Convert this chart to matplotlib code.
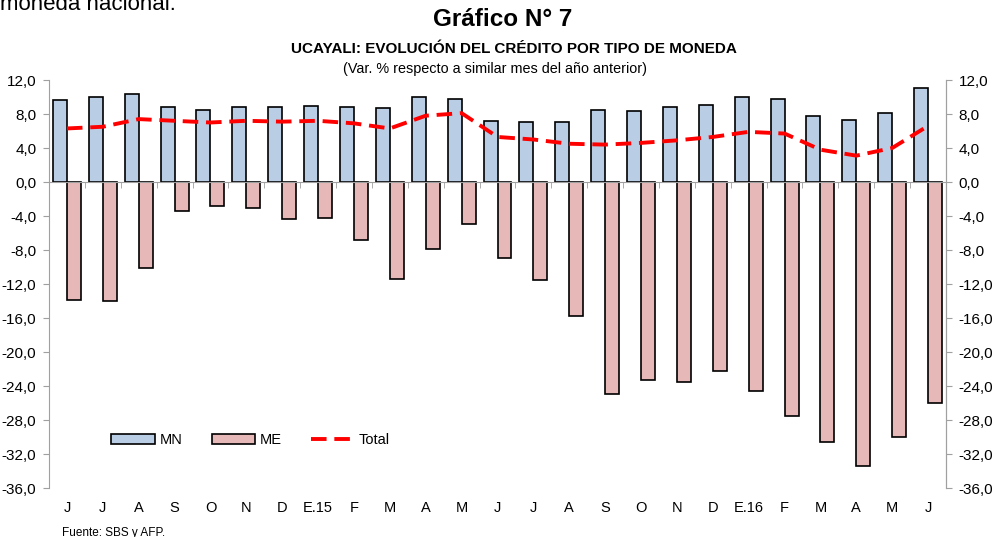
import matplotlib
matplotlib.use("Agg")
import matplotlib.pyplot as plt
import matplotlib.transforms as mtrans
from matplotlib.ticker import FuncFormatter

plt.rcParams['font.family'] = ['Liberation Sans', 'DejaVu Sans']

meses = ['J', 'J', 'A', 'S', 'O', 'N', 'D', 'E.15', 'F', 'M', 'A', 'M',
         'J', 'J', 'A', 'S', 'O', 'N', 'D', 'E.16', 'F', 'M', 'A', 'M', 'J']
mn = [9.7, 10.0, 10.4, 8.8, 8.5, 8.8, 8.8, 9.0, 8.8, 8.7, 10.0, 9.8,
      7.2, 7.1, 7.1, 8.5, 8.4, 8.8, 9.1, 10.0, 9.8, 7.8, 7.3, 8.1, 11.1]
me = [-13.9, -14.0, -10.1, -3.4, -2.8, -3.0, -4.3, -4.2, -6.8, -11.4, -7.9, -4.9,
      -8.9, -11.5, -15.8, -24.9, -23.3, -23.5, -22.2, -24.6, -27.5, -30.6, -33.4, -30.0, -26.0]
total = [6.3, 6.5, 7.4, 7.2, 7.0, 7.2, 7.1, 7.2, 6.9, 6.3, 7.8, 8.1,
         5.3, 5.0, 4.5, 4.4, 4.6, 4.9, 5.3, 5.9, 5.7, 3.8, 3.1, 4.0, 6.6]

x = list(range(len(meses)))
w = 0.39

fig = plt.figure(figsize=(9.92, 5.37), dpi=100)
ax = fig.add_axes([49/992, 1-488/537, 897/992, 408/537])

b1 = ax.bar([i - w/2 for i in x], mn, width=w, color='#B9CDE5', edgecolor='black', linewidth=1.2, label='MN', zorder=2)
b2 = ax.bar([i + w/2 for i in x], me, width=w, color='#E6B9B8', edgecolor='black', linewidth=1.2, label='ME', zorder=2)
l1, = ax.plot(x, total, color='red', linestyle=(0, (4, 2)), linewidth=2.8, label='Total', zorder=3)

ax.set_xlim(-0.5, len(meses) - 0.5)
ax.set_ylim(-36, 12)
yt = list(range(-36, 13, 4))
fmt = FuncFormatter(lambda v, p: ('%.1f' % v).replace('.', ','))
ax.set_yticks(yt)
ax.yaxis.set_major_formatter(fmt)

ax.spines['top'].set_visible(False)
ax.spines['bottom'].set_position(('data', 0))
ax.spines['bottom'].set_color('#a0a0a0')
ax.spines['left'].set_color('#a0a0a0')
ax.spines['right'].set_color('#a0a0a0')
ax.set_xticks(x)
ax.set_xticklabels([])
ax.tick_params(axis='x', which='major', length=0)
ax.set_xticks([i + 0.5 for i in x[:-1]], minor=True)
ax.tick_params(axis='x', which='minor', length=4, color='#a0a0a0', direction='out')
ax.tick_params(axis='y', length=4, color='#a0a0a0', labelsize=11, pad=5)

ax2 = ax.twinx()
ax2.set_ylim(-36, 12)
ax2.set_yticks(yt)
ax2.yaxis.set_major_formatter(fmt)
ax2.tick_params(axis='y', length=4, color='#a0a0a0', labelsize=11, pad=5)
for s in ['top', 'bottom', 'left']:
    ax2.spines[s].set_visible(False)
ax2.spines['right'].set_color('#a0a0a0')

trans = mtrans.blended_transform_factory(ax.transData, ax.transAxes)
for i, m in zip(x, meses):
    ax.text(i, -0.048, m, transform=trans, ha='center', va='center', fontsize=10.5)

ax.legend([b1, b2, l1], ['MN', 'ME', 'Total'], loc='lower left', bbox_to_anchor=(0.055, 0.068), ncol=3,
          frameon=False, fontsize=10.5, handlelength=3.0, handleheight=0.7, columnspacing=2.0,
          handletextpad=0.3)

fig.text(503/992, 1 - 20/537, 'Gráfico N° 7', ha='center', va='center', fontsize=17.5, fontweight='bold')
fig.text(514/992, 1 - 49/537, 'UCAYALI: EVOLUCIÓN DEL CRÉDITO POR TIPO DE MONEDA', ha='center', va='center',
         fontsize=11, fontweight='bold')
fig.text(495/992, 1 - 69/537, '(Var. % respecto a similar mes del año anterior)', ha='center', va='center', fontsize=10.4)
fig.text(0.0, 1 - 10/537, 'moneda nacional.', ha='left', va='baseline', fontsize=16)
fig.text(62/992, 1 - 533/537, 'Fuente: SBS y AFP.', ha='left', va='center', fontsize=8.5)

fig.savefig('out.png', dpi=100)
